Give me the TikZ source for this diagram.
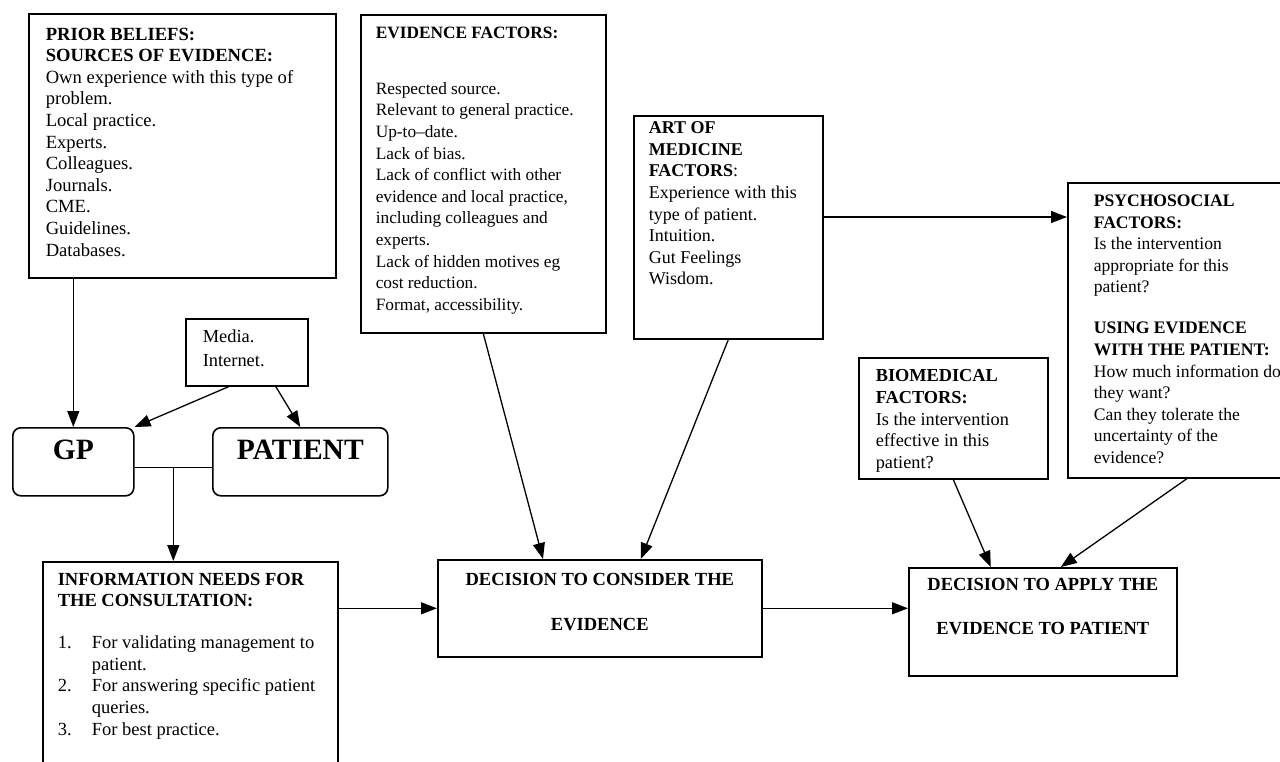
\documentclass[tikz,border=0pt]{standalone}
\usepackage{fontspec}
\setmainfont{Liberation Serif}
\usetikzlibrary{arrows.meta,calc}
\newcommand\bxt[6]{% width, height, leftpad, toppad, fontsize, content
  \begin{minipage}[t][#2pt][t]{#1pt}\leftskip=#3pt\rightskip=0pt plus 1fil\parindent=0pt
  \fontsize{#5}{21.6}\selectfont\vspace*{#4pt}#6\end{minipage}}
\newcommand\cxt[4]{% width, height, toppad, content
  \begin{minipage}[t][#2pt][t]{#1pt}\centering
  \fontsize{18.5}{21.6}\selectfont\bfseries\vspace*{#3pt}#4\end{minipage}}
\newcommand\num[1]{\makebox[34pt][l]{#1}}
\begin{document}
\begin{tikzpicture}[x=1pt,y=-1pt,
  box/.style={draw, line width=1.6pt, inner sep=0pt, anchor=north west},
  rbox/.style={box, rounded corners=8pt},
  arr/.style={line width=1.3pt, -{Triangle[length=16pt,width=12pt]}},
  ln/.style={line width=1.3pt}]
\clip (0,0) rectangle (1280,762);
\fill[white] (0,0) rectangle (1280,762);

\node[box] (prior) at (28,13) {\bxt{307}{264}{17}{14}{18.6}{\textbf{PRIOR BELIEFS:}\\
\textbf{SOURCES OF EVIDENCE:}\\
Own experience with this type of\\ problem.\\ Local practice.\\ Experts.\\ Colleagues.\\ Journals.\\ CME.\\ Guidelines.\\ Databases.}};

\node[box] (evid) at (360,14) {\bxt{245}{318}{15}{12}{17.3}{\textbf{EVIDENCE FACTORS:}\\[34.4pt]
Respected source.\\ Relevant to general practice.\\ Up-to–date.\\ Lack of bias.\\ Lack of conflict with other\\ evidence and local practice,\\ including colleagues and\\ experts.\\ Lack of hidden motives eg\\ cost reduction.\\ Format, accessibility.}};

\node[box] (art) at (633,115) {\bxt{189}{223}{15}{6}{18}{\textbf{ART OF}\\ \textbf{MEDICINE}\\ \textbf{FACTORS}:\\ Experience with this\\ type of patient.\\ Intuition.\\ Gut Feelings\\ Wisdom.}};

\node[box] (psych) at (1067,182) {\bxt{240}{295}{26}{12}{17.6}{\textbf{PSYCHOSOCIAL}\\ \textbf{FACTORS:}\\ Is the intervention\\ appropriate for this\\ patient?\\[19.4pt] \textbf{USING EVIDENCE}\\ \textbf{WITH THE PATIENT:}\\ How much information do\\ they want?\\ Can they tolerate the\\ uncertainty of the\\ evidence?}};

\node[box] (bio) at (858,357) {\bxt{189}{121}{17}{12}{18.3}{\textbf{BIOMEDICAL}\\ \textbf{FACTORS:}\\ Is the intervention\\ effective in this\\ patient?}};

\node[box] (media) at (185,318) {\bxt{122}{67}{17}{11}{18.4}{Media.\\[2pt] Internet.}};

\node[rbox] (gp) at (12,427) {\begin{minipage}[t][68pt][t]{121pt}\centering\fontsize{29.5}{32}\selectfont\bfseries\vspace*{12pt}GP\end{minipage}};
\node[rbox] (patient) at (212,427) {\begin{minipage}[t][68pt][t]{175pt}\centering\fontsize{29.5}{32}\selectfont\bfseries\vspace*{12pt}PATIENT\end{minipage}};

\node[box] (info) at (42,561) {\bxt{295}{230}{15}{11}{18.5}{\textbf{INFORMATION NEEDS FOR}\\ \textbf{THE CONSULTATION:}\\[20.4pt]
\num{1.}For validating management to\\ \hspace*{34pt}patient.\\ \num{2.}For answering specific patient\\ \hspace*{34pt}queries.\\ \num{3.}For best practice.}};

\node[box] (consider) at (437,559) {\cxt{324}{97}{13}{DECISION TO CONSIDER THE\\[23.4pt] EVIDENCE}};
\node[box] (apply) at (908,567) {\cxt{268}{108}{10}{DECISION TO APPLY THE\\[22.4pt] EVIDENCE TO PATIENT}};

% connectors
\draw[arr] (prior.south -| gp.north) -- (gp.north);
\draw[arr] ($(media.south)+(-18,0)$) -- (gp.north east);
\draw[arr] ($(media.south)+(29,0)$) -- (patient.north);
\draw[ln] ($(gp.east)+(0,6)$) -- ($(patient.west)+(0,6)$);
\coordinate (j) at ($(gp.east)!0.5!(patient.west)+(0,6)$);
\draw[arr] (j) -- (j |- info.north);
\draw[arr] (info.east |- consider.west) -- (consider.west);
\draw[arr] (consider.east) -- (consider.east -| apply.west);
\draw[arr] (evid.south) -- ($(consider.north west)+(106,0)$);
\draw[arr] (art.south) -- ($(consider.north)+(41,0)$);
\coordinate (a1) at ($(art.north east)+(0,102)$);
\draw[arr] (a1) -- (a1 -| psych.west);
\draw[arr] (bio.south) -- ($(apply.north)+(-52,0)$);
\draw[arr] ($(psych.south west)+(120,0)$) -- ($(apply.north)+(18,0)$);
\end{tikzpicture}
\end{document}
